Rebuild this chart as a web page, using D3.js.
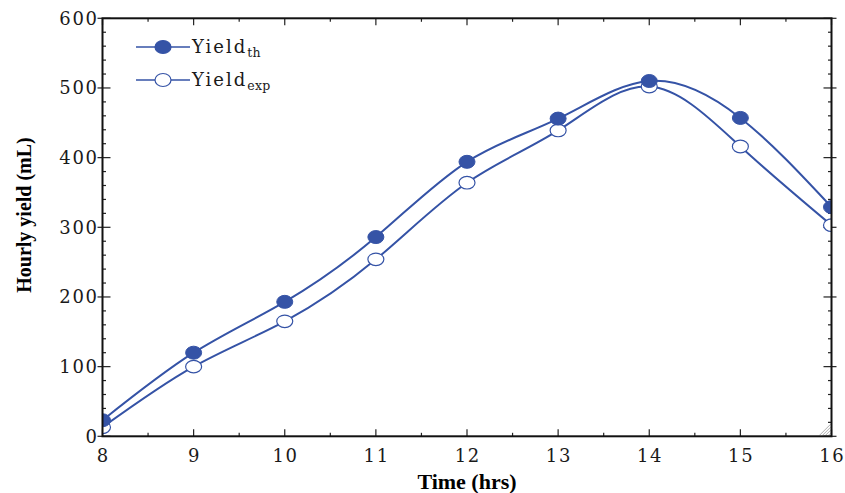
<!DOCTYPE html>
<html><head><meta charset="utf-8">
<script src="https://cdn.jsdelivr.net/npm/d3@7"></script>
<style>body{margin:0;background:#fff}</style>
</head><body>
<svg id="c" width="845" height="493"></svg>
<script>
const hours = [8, 9, 10, 11, 12, 13, 14, 15, 16];
const yieldTh = [23, 120, 193, 286, 394, 456, 510, 457, 329];
const yieldExp = [13, 100, 165, 254, 364, 439, 502, 416, 303];
const xTicks = [8, 9, 10, 11, 12, 13, 14, 15, 16];
const yTicks = [0, 100, 200, 300, 400, 500, 600];

const svg = d3.select("#c");
const L = 102.5, R = 831.5, T = 18.3, B = 436.3;
const x = d3.scaleLinear().domain([8, 16]).range([L, R]);
const y = d3.scaleLinear().domain([0, 600]).range([B, T]);
const blue = "#3553a6";
const font = "'Liberation Serif','Times New Roman',serif";
const wfont = "'DejaVu Serif',serif";

svg.append("defs").append("clipPath").attr("id", "clip")
  .append("rect").attr("x", L).attr("y", T).attr("width", R - L).attr("height", B - T);

// ticks
const g = svg.append("g").attr("stroke", "#222").attr("stroke-width", 1.2);
const xMinor = d3.range(8, 16.01, 0.5);
xMinor.forEach(v => {
  const major = Number.isInteger(v);
  const len = major ? 7 : 3.5;
  g.append("line").attr("x1", x(v)).attr("x2", x(v)).attr("y1", B).attr("y2", B - len);
  g.append("line").attr("x1", x(v)).attr("x2", x(v)).attr("y1", T).attr("y2", T + len);
});
const yMinor = d3.range(0, 600.01, 20);
yMinor.forEach(v => {
  const major = v % 100 === 0;
  const inLen = major ? 8 : 3.5, outLen = major ? 5 : 0;
  g.append("line").attr("y1", y(v)).attr("y2", y(v)).attr("x1", L - outLen).attr("x2", L + inLen);
  g.append("line").attr("y1", y(v)).attr("y2", y(v)).attr("x1", R + outLen).attr("x2", R - inLen);
});

// hatched corner
const hc = svg.append("g").attr("stroke", "#999").attr("stroke-width", 0.8);
for (let i = 3; i <= 14; i += 3) {
  hc.append("line").attr("x1", R - i).attr("y1", B - 1).attr("x2", R - 1).attr("y2", B - i);
}

// tick labels
svg.append("g").selectAll("text").data(xTicks).join("text")
  .attr("x", d => x(d) + 0.8).attr("y", 462).attr("text-anchor", "middle")
  .attr("font-family", wfont).attr("font-size", 18).attr("letter-spacing", 1.6)
  .attr("fill", "#1a1a1a").text(d => d);
svg.append("g").selectAll("text").data(yTicks).join("text")
  .attr("x", 98.5).attr("y", d => y(d) + 6.5).attr("text-anchor", "end")
  .attr("font-family", wfont).attr("font-size", 18).attr("letter-spacing", 1.6)
  .attr("fill", "#1a1a1a").text(d => d);

// axis titles
svg.append("text").attr("x", 467).attr("y", 489).attr("text-anchor", "middle")
  .attr("font-family", font).attr("font-size", 22).attr("font-weight", "bold").text("Time (hrs)");
svg.append("text").attr("transform", "translate(31,215) rotate(-90)").attr("text-anchor", "middle")
  .attr("font-family", font).attr("font-size", 20).attr("font-weight", "bold").text("Hourly yield (mL)");

// lines + markers (clipped to plot area)
const plot = svg.append("g").attr("clip-path", "url(#clip)");
const line = d3.line().x((d, i) => x(hours[i])).y(d => y(d)).curve(d3.curveNatural);
[yieldTh, yieldExp].forEach(s => {
  plot.append("path").attr("d", line(s)).attr("fill", "none").attr("stroke", blue).attr("stroke-width", 2);
});
plot.append("g").selectAll("ellipse").data(yieldExp).join("ellipse")
  .attr("cx", (d, i) => x(hours[i])).attr("cy", d => y(d)).attr("rx", 8).attr("ry", 6.3)
  .attr("fill", "#fff").attr("stroke", blue).attr("stroke-width", 1.2);
plot.append("g").selectAll("ellipse").data(yieldTh).join("ellipse")
  .attr("cx", (d, i) => x(hours[i])).attr("cy", d => y(d)).attr("rx", 8).attr("ry", 6.5)
  .attr("fill", blue).attr("stroke", blue).attr("stroke-width", 1);

// frame
svg.append("rect").attr("x", L).attr("y", T).attr("width", R - L).attr("height", B - T)
  .attr("fill", "none").attr("stroke", "#111").attr("stroke-width", 2);

// legend
const leg = [{name: "th", fill: blue, yy: 47}, {name: "exp", fill: "#fff", yy: 80}];
leg.forEach(l => {
  svg.append("line").attr("x1", 136).attr("x2", 190).attr("y1", l.yy).attr("y2", l.yy)
    .attr("stroke", blue).attr("stroke-width", 1.5);
  svg.append("ellipse").attr("cx", 163).attr("cy", l.yy).attr("rx", 8).attr("ry", 6.5)
    .attr("fill", l.fill).attr("stroke", blue).attr("stroke-width", 1.2);
  const t = svg.append("text").attr("x", 192).attr("y", l.yy + 6)
    .attr("font-family", wfont).attr("font-size", 18).attr("letter-spacing", 2)
    .attr("fill", "#1a1a1a");
  t.append("tspan").text("Yield");
  t.append("tspan").attr("dy", 4).attr("font-size", 12.5).attr("letter-spacing", 0.3).text(l.name);
});
</script>
</body></html>
